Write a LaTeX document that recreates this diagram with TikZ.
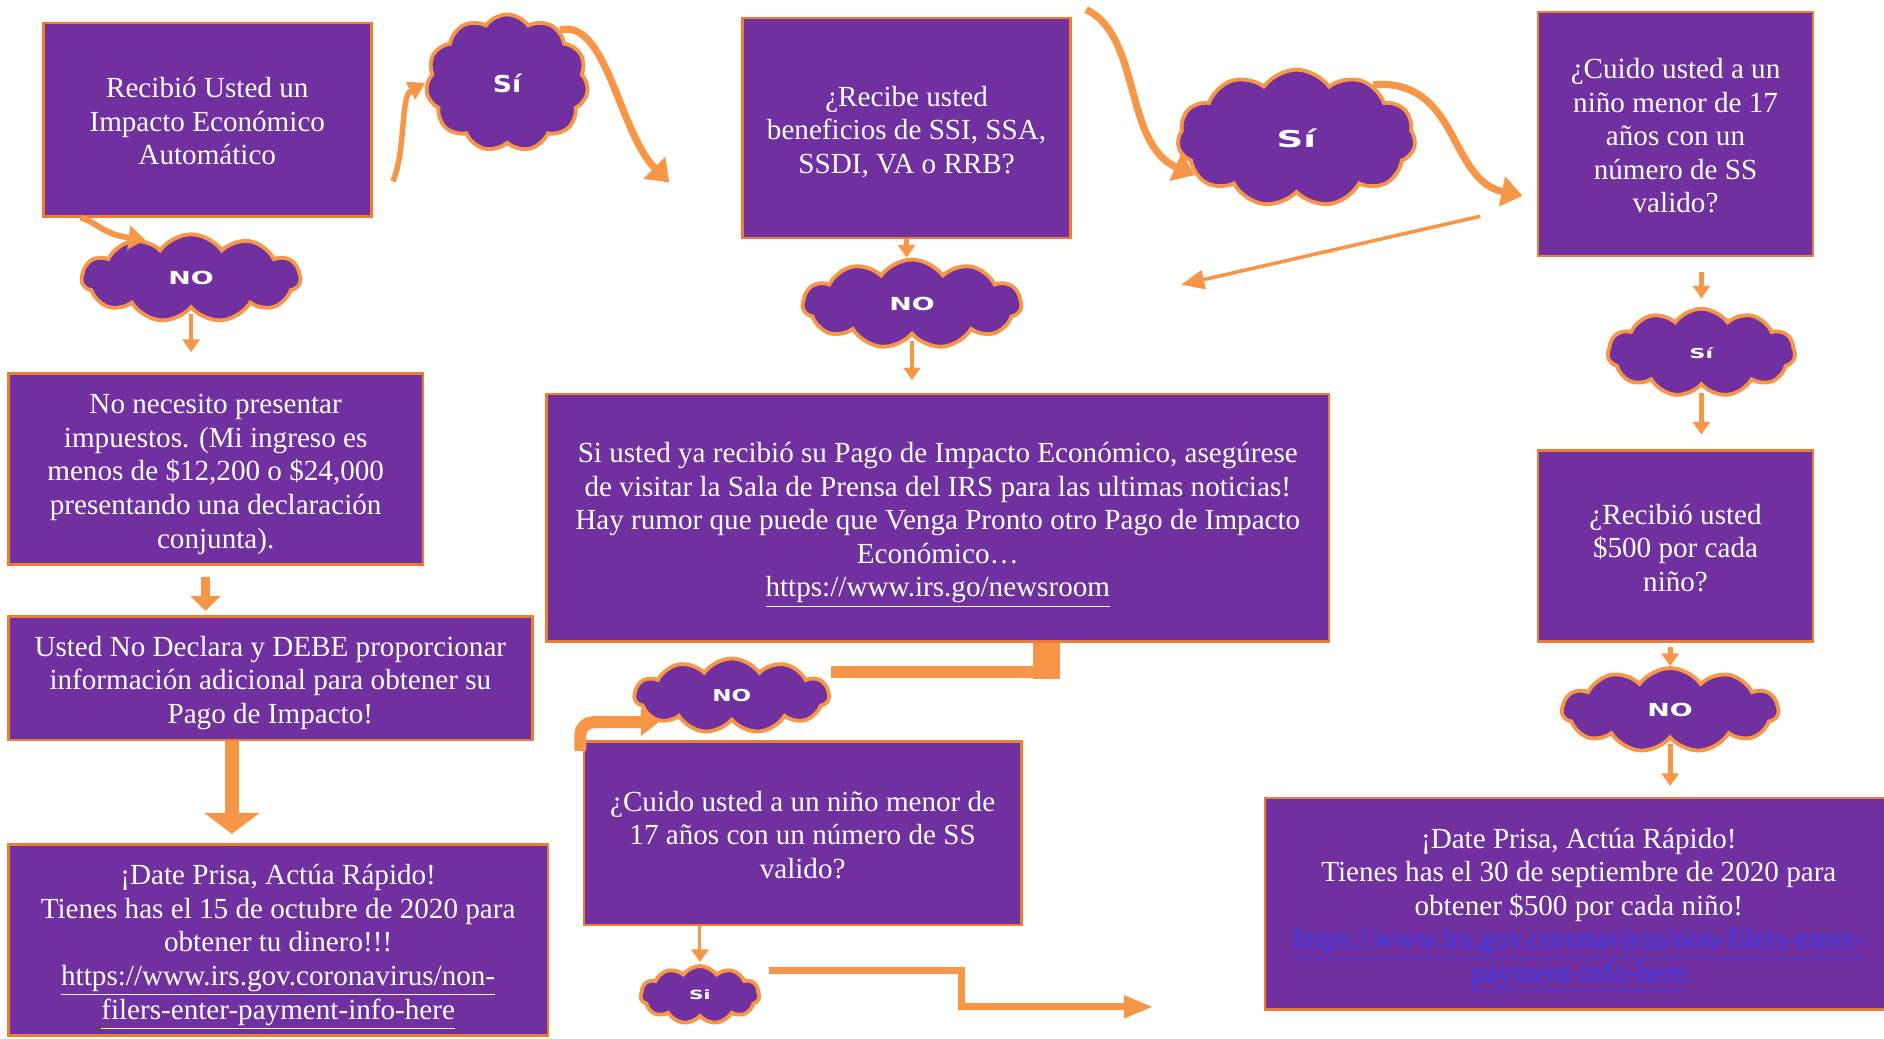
\documentclass[tikz,border=0pt]{standalone}
\usepackage{fontspec}
\usepackage{graphicx}
\setmainfont{Liberation Serif}
\newfontfamily\etqfont{DejaVu Sans}
\usetikzlibrary{arrows.meta,positioning,shapes.symbols,calc}
\definecolor{morado}{HTML}{7030A0}
\definecolor{naranja}{HTML}{ED7D31}
\definecolor{flechac}{HTML}{F79646}
\definecolor{enlace}{HTML}{3B3BF0}
\newcommand{\nubetxt}[3]{{\etqfont\bfseries\fontsize{#1}{#1}\selectfont\scalebox{#2}[1]{#3}}}

\begin{document}
\begin{tikzpicture}[
  x=0.02cm, y=-0.02cm,
  every node/.style={font=\fontsize{13.8}{15.9}\selectfont},
  tam/.style 2 args={minimum width=#1*0.02cm, minimum height=#2*0.02cm},
  caja/.style={draw=naranja, line width=1.2pt, fill=morado, text=white, align=center, inner sep=0pt},
  tres/.style={text height=42.9pt, text depth=0pt},
  cinco/.style={text height=74.7pt, text depth=0pt},
  nube/.style={cloud, cloud puffs=11, cloud puff arc=110, cloud ignores aspect, draw=flechac, line width=1.8pt, fill=morado, text=white, inner sep=0pt},
  corta/.style={draw=flechac, line width=2.3pt, -{Triangle[width=8pt,length=6pt]}},
  curva/.style={draw=flechac, line width=3.4pt, -{Triangle[width=14pt,length=10pt]}},
  gruesa/.style={draw=flechac, line width=6.8pt, -{Triangle[width=26pt,length=10pt]}},
  barra/.style={draw=flechac, line width=5.7pt},
]
  \useasboundingbox (0,0) rectangle (1568,864.7);

  % cajas
  \node[caja, tres, tam={273}{161}] (auto) at (172.5,99.5) {Recibió Usted un\\Impacto Económico\\Automático};
  \node[caja, tres, tam={273}{183}] (benef) at (754.5,106.5) {¿Recibe usted\\beneficios de SSI, SSA,\\SSDI, VA o RRB?};
  \node[caja, cinco, tam={229}{203}] (nino1) at (1394.5,111.5) {¿Cuido usted a un\\niño menor de 17\\años con un\\número de SS\\valido?};
  \node[caja, cinco, tam={345}{159}] (noimp) at (179.5,390.5) {No necesito presentar\\impuestos. (Mi ingreso es\\menos de \$12,200 o \$24,000\\presentando una declaración\\conjunta).};
  \node[caja, tres, tam={436}{103}] (nodecl) at (225,564.5) {Usted No Declara y DEBE proporcionar\\información adicional para obtener su\\Pago de Impacto!};
  \node[caja, cinco, tam={449}{159}] (prisa1) at (231.5,782.5) {¡Date Prisa, Actúa Rápido!\\Tienes has el 15 de octubre de 2020 para\\obtener tu dinero!!!\\\underline{https://www.irs.gov.coronavirus/non-}\\\underline{filers-enter-payment-info-here}};
  \node[caja, cinco, tam={651}{206}] (nota) at (780.5,431) {Si usted ya recibió su Pago de Impacto Económico, asegúrese\\de visitar la Sala de Prensa del IRS para las ultimas noticias!\\Hay rumor que puede que Venga Pronto otro Pago de Impacto\\Económico…\\\underline{https://www.irs.go/newsroom}};
  \node[caja, tres, tam={364}{153}] (nino2) at (668,693.5) {¿Cuido usted a un niño menor de\\17 años con un número de SS\\valido?};
  \node[caja, tres, tam={229}{159}] (quin) at (1394.5,454.5) {¿Recibió usted\\\$500 por cada\\niño?};
  \node[caja, cinco, tam={522}{176}] (prisa2) at (1314,752) {¡Date Prisa, Actúa Rápido!\\Tienes has el 30 de septiembre de 2020 para\\obtener \$500 por cada niño!\\\textcolor{enlace}{\underline{https://www.irs.gov.coronavirus/non-filers-enter-}}\\\textcolor{enlace}{\underline{payment-info-here}}};

  % nubes
  \node[nube, tam={135}{114}] (si1) at (422,69) {\nubetxt{11}{1.15}{Sí}};
  \node[nube, tam={182}{73}] (no1) at (159,231.5) {\nubetxt{8.5}{1.5}{NO}};
  \node[nube, tam={182}{74}] (no2) at (759,253) {\nubetxt{8.5}{1.5}{NO}};
  \node[nube, tam={198}{114}] (si2) at (1079,115) {\nubetxt{11}{1.6}{Sí}};
  \node[nube, tam={156}{73}] (si3) at (1416,293.5) {\nubetxt{6.5}{1.6}{Sí}};
  \node[nube, tam={162}{62}] (no3) at (609,579) {\nubetxt{7.8}{1.4}{NO}};
  \node[nube, tam={180}{70}] (no4) at (1390,591) {\nubetxt{8.5}{1.5}{NO}};
  \node[nube, tam={99}{48}] (si4) at (582.5,828) {\nubetxt{6}{1.6}{Si}};

  % puntos sueltos
  \coordinate (f1) at (67,181);
  \coordinate (f3) at (327,151);
  \coordinate (f4) at (557,152);
  \coordinate (f5) at (904,8);
  \coordinate (f7a) at (1232,180);
  \coordinate (f7b) at (983,237);
  \coordinate (f14) at (171,480);
  \coordinate (f15) at (193,617);
  \coordinate (codo) at (871,559);
  \coordinate (f17) at (483,625);
  \coordinate (f19a) at (640,808);
  \coordinate (f19b) at (800,838);
  \coordinate (f19c) at (960,838);

  % flechas cortas
  \draw[corta, shorten <=2pt, shorten >=9.6pt] (no1.south) -- (no1.south |- noimp.north);
  \draw[corta] (benef.south) -- (benef.south |- no2.north);
  \draw[corta, shorten <=2pt, shorten >=6pt] (no2.south) -- (no2.south |- nota.north);
  \draw[corta, shorten <=7pt, shorten >=4pt] (nino1.south -| si3) -- (si3.north);
  \draw[corta, shorten <=3pt, shorten >=7pt] (si3.south) -- (si3.south |- quin.north);
  \draw[corta, shorten <=2pt] (quin.south -| no4) -- (no4.north);
  \draw[corta, shorten <=2pt, shorten >=5pt] (no4.south) -- (no4.south |- prisa2.north);
  \draw[corta, line width=1.5pt, shorten >=1pt] (nino2.south -| si4) -- (si4.north);
  \draw[corta, line width=4.5pt, -{Triangle[width=14pt,length=7pt]}, shorten >=2pt] (f14) -- (f14 |- nodecl.north);
  \draw[gruesa, shorten >=4.5pt] (f15) -- (f15 |- prisa1.north);

  % flechas curvas
  \draw[curva, line width=2.8pt, -{Triangle[width=11pt,length=8pt]}] (f1) .. controls (82,186) and (86,195) .. (no1.140);
  \draw[curva, line width=2.6pt, -{Triangle[width=9pt,length=8pt]}] (f3) .. controls (338,125) and (333,80) .. (si1.west);
  \draw[curva] (si1.45) .. controls (505,15) and (515,110) .. (f4);
  \draw[curva] (f5) .. controls (950,30) and (935,120) .. (si2.200);
  \draw[curva, shorten >=6.8pt] (si2.35) .. controls (1215,65) and (1205,150) .. (nino1.205);
  \draw[draw=flechac, line width=1.7pt, -{Triangle[width=9pt,length=11pt]}] (f7a) -- (f7b);

  % codos
  \draw[barra] (codo) -- (codo -| no3.east);
  \draw[barra, line width=12.5pt] (nota.south -| codo) -- ++(0,30);
  \draw[barra, rounded corners=6pt, -{Triangle[width=12.5pt,length=8.5pt]}] (f17) |- (no3.200);
  \draw[barra, line width=3.4pt, -{Triangle[width=10pt,length=14pt]}] (f19a) -| (f19b) -- (f19c);
\end{tikzpicture}
\end{document}
